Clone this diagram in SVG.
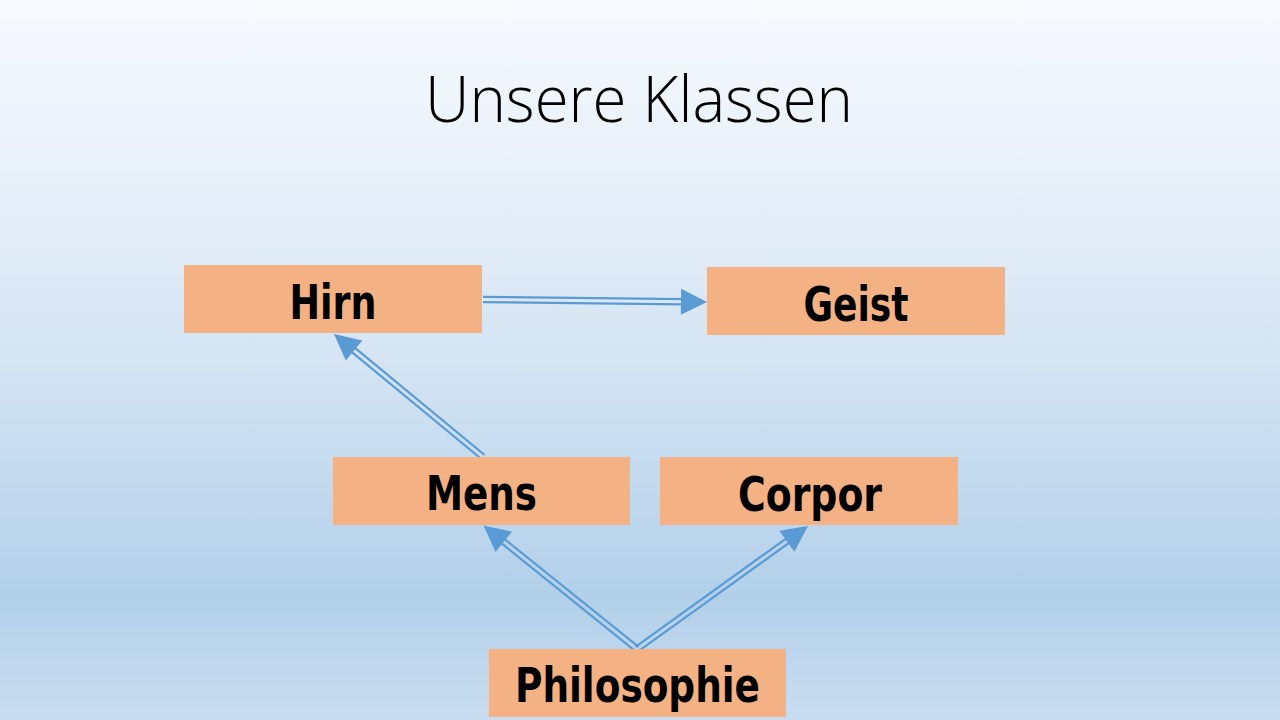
<svg xmlns="http://www.w3.org/2000/svg" width="1280" height="720" viewBox="0 0 1280 720">
  <defs>
    <linearGradient id="bg" x1="0" y1="0" x2="0" y2="1">
      <stop offset="0" stop-color="#f7fafd"/>
      <stop offset="0.2" stop-color="#ebf2fa"/>
      <stop offset="0.5" stop-color="#d4e4f3"/>
      <stop offset="0.83" stop-color="#b2d0ea"/>
      <stop offset="1" stop-color="#c9ddf0"/>
    </linearGradient>
    <style>
      .box { fill: #f4b183; }
      .lbl { font-family: "DejaVu Sans Condensed", "DejaVu Sans", sans-serif; font-weight: bold; font-size: 48px; fill: #000; text-anchor: middle; }
      .title { font-family: "Open Sans", "Lato", sans-serif; font-weight: 300; font-size: 64px; fill: #000; text-anchor: middle; }
      .dl { stroke: #5b9bd5; stroke-width: 2.2; fill: none; }
      .ah { fill: #5b9bd5; }
    </style>
  </defs>
  <rect x="0" y="0" width="1280" height="720" fill="url(#bg)"/>
  <text class="title" x="639" y="122" textLength="428" lengthAdjust="spacingAndGlyphs">Unsere Klassen</text>

  <g id="connectors">
    <!-- Hirn -> Geist -->
    <g transform="translate(483,299.5) rotate(0.64)">
      <line class="dl" x1="0" y1="-2.6" x2="200" y2="-2.6"/>
      <line class="dl" x1="0" y1="2.6" x2="200" y2="2.6"/>
      <polygon class="ah" points="224,0 198,-13 198,13"/>
    </g>
    <!-- Mens -> Hirn -->
    <g transform="translate(483,457) rotate(-140.46)">
      <line class="dl" x1="0" y1="-2.6" x2="169" y2="-2.6"/>
      <line class="dl" x1="0" y1="2.6" x2="169" y2="2.6"/>
      <polygon class="ah" points="193.2,0 167.2,-13 167.2,13"/>
    </g>
    <!-- Philosophie -> Mens -->
    <g transform="translate(637,649) rotate(-141.18)">
      <line class="dl" x1="0" y1="-2.6" x2="173" y2="-2.6"/>
      <line class="dl" x1="0" y1="2.6" x2="173" y2="2.6"/>
      <polygon class="ah" points="197,0 171,-13 171,13"/>
    </g>
    <!-- Philosophie -> Corpor -->
    <g transform="translate(637,649) rotate(-35.73)">
      <line class="dl" x1="0" y1="-2.6" x2="186" y2="-2.6"/>
      <line class="dl" x1="0" y1="2.6" x2="186" y2="2.6"/>
      <polygon class="ah" points="210.6,0 184.6,-13 184.6,13"/>
    </g>
  </g>

  <g id="hirn">
    <rect class="box" x="184" y="265" width="298" height="68"/>
    <text class="lbl" x="333" y="319" textLength="87" lengthAdjust="spacingAndGlyphs">Hirn</text>
  </g>
  <g id="geist">
    <rect class="box" x="707" y="267" width="298" height="68"/>
    <text class="lbl" x="856" y="321" textLength="105" lengthAdjust="spacingAndGlyphs">Geist</text>
  </g>
  <g id="mens">
    <rect class="box" x="333" y="457" width="297" height="68"/>
    <text class="lbl" x="481.5" y="510" textLength="111" lengthAdjust="spacingAndGlyphs">Mens</text>
  </g>
  <g id="corpor">
    <rect class="box" x="660" y="457" width="298" height="68"/>
    <text class="lbl" x="810" y="511" textLength="144" lengthAdjust="spacingAndGlyphs">Corpor</text>
  </g>
  <g id="philosophie">
    <rect class="box" x="489" y="649" width="297" height="68"/>
    <text class="lbl" x="637.5" y="702" textLength="245" lengthAdjust="spacingAndGlyphs">Philosophie</text>
  </g>
</svg>
